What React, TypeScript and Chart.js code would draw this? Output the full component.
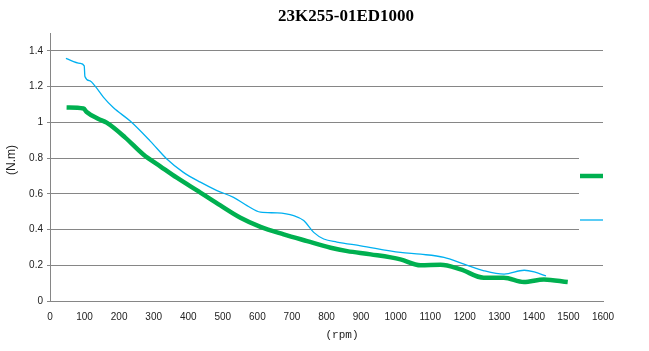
import React, { useEffect, useRef } from "react";
import { Chart, registerables } from "chart.js";

Chart.register(...registerables);

const chartTitle = "23K255-01ED1000";
const xAxisTitle = "(rpm)";
const yAxisTitle = "(N.m)";

const xMin = 0;
const xMax = 1600;
const xStep = 100;
const yMin = 0;
const yMax = 1.5;
const yStep = 0.2;
const yTickTop = 1.4;

const greenRpm = [48, 97, 106, 139, 164, 217, 270, 319, 367, 435, 493, 551, 609, 676, 744, 812, 860, 928, 1014, 1072, 1130, 1188, 1255, 1313, 1371, 1429, 1498];
const greenTorque = [1.083, 1.077, 1.058, 1.02, 0.998, 0.916, 0.82, 0.754, 0.69, 0.607, 0.535, 0.466, 0.415, 0.373, 0.335, 0.298, 0.279, 0.261, 0.233, 0.2, 0.203, 0.177, 0.13, 0.13, 0.106, 0.121, 0.106];

const blueRpm = [46, 87, 99, 101, 116, 130, 155, 183, 232, 290, 338, 386, 435, 483, 531, 570, 609, 657, 705, 734, 763, 792, 830, 899, 1014, 1072, 1140, 1198, 1256, 1314, 1372, 1401, 1435];
const blueTorque = [1.358, 1.33, 1.316, 1.257, 1.232, 1.204, 1.14, 1.083, 1.007, 0.895, 0.795, 0.72, 0.665, 0.618, 0.58, 0.534, 0.497, 0.493, 0.478, 0.45, 0.384, 0.347, 0.33, 0.309, 0.272, 0.262, 0.244, 0.206, 0.169, 0.15, 0.172, 0.163, 0.14];

const GREEN = "#00B050";
const BLUE = "#00B0F0";
const GRID = "#868686";

const overlayPlugin = {
  id: "overlayTexts",
  afterDraw(chart: any) {
    const { ctx, chartArea } = chart;
    ctx.save();
    // legend box overlapping the plot area on the right
    ctx.fillStyle = "#ffffff";
    ctx.fillRect(chartArea.right - 24, 136, 80, 114);
    const legendYs = [176, 220];
    chart.data.datasets.forEach((ds: any, i: number) => {
      ctx.beginPath();
      ctx.strokeStyle = ds.borderColor;
      ctx.lineWidth = ds.borderWidth;
      ctx.lineCap = "butt";
      ctx.moveTo(chartArea.right - 23, legendYs[i]);
      ctx.lineTo(chartArea.right, legendYs[i]);
      ctx.stroke();
    });
    // title
    ctx.fillStyle = "#000000";
    ctx.font = "bold 17px 'Liberation Serif'";
    ctx.textAlign = "center";
    ctx.textBaseline = "middle";
    ctx.fillText(chartTitle, 346, 17);
    // x axis title
    ctx.font = "11px 'Liberation Mono'";
    ctx.fillStyle = "#222222";
    ctx.fillText(xAxisTitle, 342, 335);
    // y axis title
    ctx.translate(12, 160);
    ctx.rotate(-Math.PI / 2);
    ctx.font = "12px 'Liberation Sans'";
    ctx.fillText(yAxisTitle, 0, 0);
    ctx.restore();
  },
};

export default function App() {
  const canvasRef = useRef<HTMLCanvasElement | null>(null);

  useEffect(() => {
    if (!canvasRef.current) return;
    const chart = new Chart(canvasRef.current, {
      type: "line",
      data: {
        datasets: [
          {
            label: "",
            data: greenRpm.map((x, i) => ({ x, y: greenTorque[i] })),
            borderColor: GREEN,
            backgroundColor: GREEN,
            borderWidth: 4.5,
            pointRadius: 0,
            cubicInterpolationMode: "monotone",
            fill: false,
          },
          {
            label: "",
            data: blueRpm.map((x, i) => ({ x, y: blueTorque[i] })),
            borderColor: BLUE,
            backgroundColor: BLUE,
            borderWidth: 1.3,
            pointRadius: 0,
            cubicInterpolationMode: "monotone",
            fill: false,
          },
        ],
      },
      options: {
        animation: false,
        responsive: true,
        maintainAspectRatio: false,
        layout: { padding: { top: 33, right: 46, left: 0, bottom: 0 } },
        plugins: {
          legend: { display: false },
          title: { display: false },
          tooltip: { enabled: false },
        },
        scales: {
          x: {
            type: "linear",
            min: xMin,
            max: xMax,
            afterFit: (s: any) => {
              s.height = 50;
            },
            ticks: {
              stepSize: xStep,
              padding: 2,
              color: "#222222",
              font: { family: "'Liberation Sans'", size: 10 },
              maxRotation: 0,
              callback: (v: any) => String(Math.round(Number(v))),
            },
            grid: { display: false },
            border: { display: true, color: GRID, width: 1 },
          },
          y: {
            type: "linear",
            min: yMin,
            max: yMax,
            afterFit: (s: any) => {
              s.width = 50;
            },
            afterBuildTicks: (s: any) => {
              s.ticks = s.ticks.filter((t: any) => t.value <= yTickTop + 1e-6);
            },
            ticks: {
              stepSize: yStep,
              padding: 4,
              color: "#222222",
              font: { family: "'Liberation Sans'", size: 10 },
              callback: (v: any) => String(Math.round(Number(v) * 10) / 10),
            },
            grid: {
              color: GRID,
              lineWidth: 1,
              drawTicks: true,
              tickLength: 3,
              tickColor: GRID,
            },
            border: { display: true, color: GRID, width: 1 },
          },
        },
      },
      plugins: [overlayPlugin],
    });
    return () => chart.destroy();
  }, []);

  return (
    <div style={{ position: "fixed", left: 0, top: 0, width: 649, height: 351, background: "#fff" }}>
      <canvas ref={canvasRef} />
    </div>
  );
}
